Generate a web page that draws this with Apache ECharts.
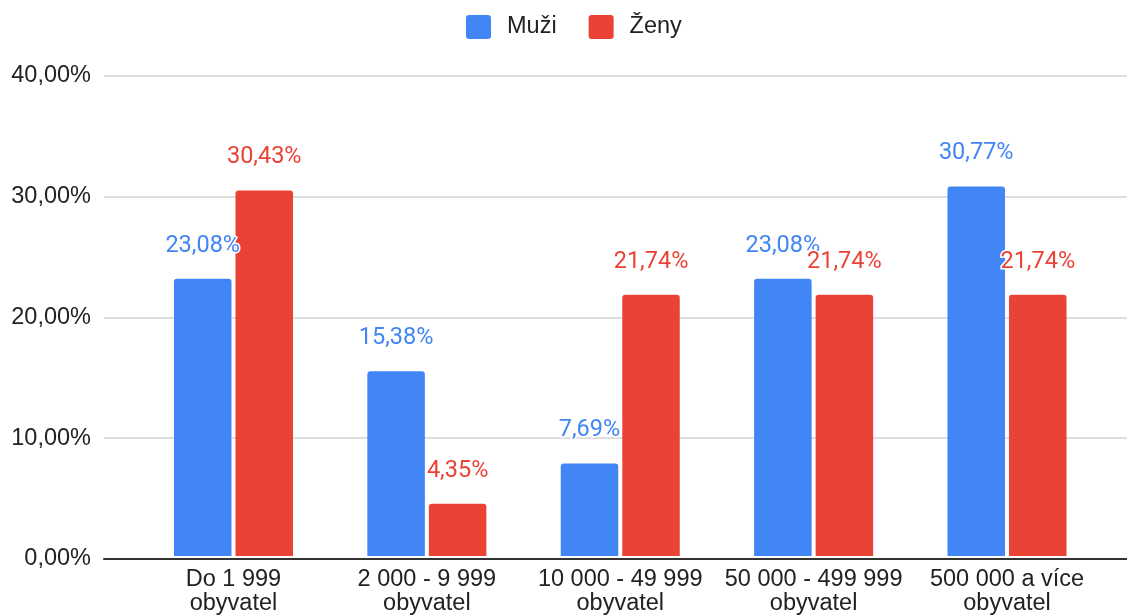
<!DOCTYPE html>
<html>
<head>
<meta charset="utf-8">
<script src="https://cdn.jsdelivr.net/npm/echarts@6/dist/echarts.min.js"></script>
<style>
html,body{margin:0;padding:0;background:#fff;}
#chart{width:1127px;height:616px;}
</style>
</head>
<body>
<div id="chart"></div>
<script>
var categories = [
  'Do 1 999\nobyvatel',
  '2 000 - 9 999\nobyvatel',
  '10 000 - 49 999\nobyvatel',
  '50 000 - 499 999\nobyvatel',
  '500 000 a více\nobyvatel'
];
var seriesNames = ['Muži', 'Ženy'];
var muzi = [23.08, 15.38, 7.69, 23.08, 30.77];
var zeny = [30.43, 4.35, 21.74, 21.74, 21.74];
var yTicks = [0, 10, 20, 30, 40];

var BLUE = '#4285F4', RED = '#EA4335';
var AXIS_FONT = 'Liberation Sans, Arial, sans-serif';
function pct(v) { return v.toFixed(2).replace('.', ',') + '%'; }

var chart = echarts.init(document.getElementById('chart'), null, {renderer: 'canvas'});
var gridTop = 75.5, gridBottom = 57;

function labelCfg(color) {
  return {
    show: true,
    position: 'top',
    distance: 21,
    color: color,
    fontFamily: 'Roboto, sans-serif',
    fontSize: 23.5,
    textBorderColor: '#fff',
    textBorderWidth: 3,
    formatter: function (p) { return pct(p.value); }
  };
}

chart.setOption({
  animation: false,
  backgroundColor: '#fff',
  legend: {
    data: seriesNames,
    left: 466,
    top: 15,
    padding: 0,
    itemWidth: 25,
    itemHeight: 24,
    itemGap: 32,
    icon: 'path://M3,0 H22 Q25,0 25,3 V21 Q25,24 22,24 H3 Q0,24 0,21 V3 Q0,0 3,0 Z',
    textStyle: {
      color: '#222',
      fontFamily: AXIS_FONT,
      fontSize: 23.5,
      padding: [0, 0, 0, 11]
    }
  },
  grid: [
    {left: 136.8, right: 23.3, top: gridTop, bottom: gridBottom},
    {left: 104, right: 0, top: gridTop, bottom: gridBottom}
  ],
  xAxis: [
    {
      type: 'category',
      gridIndex: 0,
      data: categories,
      axisLine: {show: false},
      axisTick: {show: false},
      axisLabel: {
        color: '#222',
        fontFamily: AXIS_FONT,
        fontSize: 23.5,
        lineHeight: 24,
        margin: 12,
        interval: 0
      }
    },
    {
      type: 'value',
      gridIndex: 1,
      min: 0, max: 1,
      axisLine: {show: true, onZero: false, lineStyle: {color: '#333', width: 2}},
      axisTick: {show: false},
      axisLabel: {show: false},
      splitLine: {show: false}
    }
  ],
  yAxis: [
    {
      type: 'value',
      gridIndex: 0,
      min: yTicks[0], max: yTicks[yTicks.length - 1], interval: 10,
      axisLabel: {show: false},
      axisLine: {show: false},
      axisTick: {show: false},
      splitLine: {show: false}
    },
    {
      type: 'value',
      gridIndex: 1,
      min: yTicks[0], max: yTicks[yTicks.length - 1], interval: 10,
      axisLine: {show: false},
      axisTick: {show: false},
      axisLabel: {
        color: '#222',
        fontFamily: AXIS_FONT,
        fontSize: 23.5,
        margin: 13,
        formatter: function (v) { return pct(v); }
      },
      splitLine: {show: true, lineStyle: {color: '#d3d3d3', width: 1.5}}
    }
  ],
  series: [
    {
      name: seriesNames[0],
      type: 'bar',
      xAxisIndex: 0, yAxisIndex: 0,
      data: muzi,
      barWidth: 57.5,
      barGap: '7%',
      itemStyle: {color: BLUE, borderRadius: [3, 3, 0, 0]},
      label: labelCfg(BLUE),
      z: 3
    },
    {
      name: seriesNames[1],
      type: 'bar',
      xAxisIndex: 0, yAxisIndex: 0,
      data: zeny,
      barWidth: 57.5,
      barGap: '7%',
      itemStyle: {color: RED, borderRadius: [3, 3, 0, 0]},
      label: labelCfg(RED),
      z: 3
    }
  ]
});
</script>
</body>
</html>
